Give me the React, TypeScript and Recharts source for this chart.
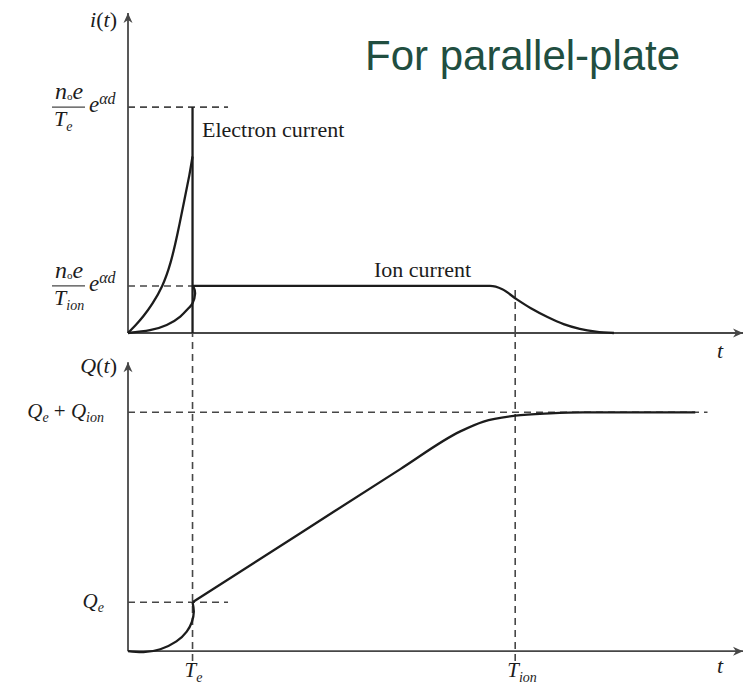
import { LineChart, Line, XAxis, YAxis, ReferenceLine } from 'recharts'

const SERIF = "'Liberation Serif', 'Times New Roman', serif"
const SANS = "'Liberation Sans', Arial, sans-serif"
const INK = '#1c1c1c'
const AXIS = '#474747'
const DASH = '7 5'

// shared time axis (t in units of Te)
const TE = 1
const TION = 6
const T_MAX = 9.53
const T_SHORT_GUIDE = 1.55
const T_LONG_GUIDE = 8.98

// current panel, i(t) in units of the ion current level
const I_ION = 1
const I_PEAK = 4.8
const I_MAX = 6.8
const I_TION_GUIDE = 1.02

// charge panel, Q(t) in units of Qe
const Q_E = 1
const Q_TOTAL = 4.88
const Q_MIN = -0.2
const Q_MAX = 6.5
const Q_ARROW = 5.9

// electron current: steep rise up to Te, then drop back to zero
const electronRiseT = [0, 0.12, 0.24, 0.38, 0.53, 0.66, 0.77, 0.87, 0.95, 1.0]
const electronRiseI = [0, 0.17, 0.36, 0.63, 1.0, 1.5, 2.13, 2.8, 3.35, 3.75]
const electronDropT = [1.0, 1.0]
const electronDropI = [4.8, 0]

// ion current: small rise before Te, plateau, tail after Tion
const ionRiseT = [0, 0.34, 0.6, 0.81, 0.94, 1.0, 1.04, 1.01]
const ionRiseI = [0, 0.06, 0.17, 0.35, 0.53, 0.63, 0.84, 1.0]
const ionPlateauT = [1.0, 5.61, 5.8, 6.02, 6.25, 6.5, 6.75, 7.0, 7.25, 7.53]
const ionPlateauI = [1, 1, 0.93, 0.72, 0.52, 0.34, 0.19, 0.09, 0.03, 0]

// collected charge
const chargeElectronT = [0, 0.24, 0.5, 0.75, 0.91, 0.99, 1.02, 1.0]
const chargeElectronQ = [0, -0.02, 0.04, 0.2, 0.4, 0.6, 0.81, 1.0]
const chargeIonT = [1.0, 2.67, 4.22, 5.15, 5.51, 6.0, 6.54, 7.05, 8.79]
const chargeIonQ = [1.0, 2.41, 3.72, 4.49, 4.69, 4.81, 4.86, 4.88, 4.88]

const pts = (ts: number[], vs: number[]) => ts.map((t, i) => ({ t, v: vs[i] }))

const ArrowAxis = (props: any) => {
  const { x1, y1, x2, y2, vertical, name, nameDx, nameDy } = props
  const head = vertical
    ? `M${x2},${y2} L${x2 - 4.5},${y2 + 10} L${x2},${y2 + 7} L${x2 + 4.5},${y2 + 10} Z`
    : `M${x2},${y2} L${x2 - 10},${y2 - 4.5} L${x2 - 7},${y2} L${x2 - 10},${y2 + 4.5} Z`
  return (
    <g>
      <line x1={x1} y1={y1} x2={x2} y2={y2} stroke={AXIS} strokeWidth={1.8} />
      <path d={head} fill={AXIS} />
      <text
        x={x2 + nameDx}
        y={y2 + nameDy}
        textAnchor={vertical ? 'end' : 'start'}
        fontFamily={SERIF}
        fontSize={22}
        fill={INK}
      >
        {name}
      </text>
    </g>
  )
}

const it = (s: string) => <tspan fontStyle="italic">{s}</tspan>

const CurrentTick = ({ x, y, payload }: any) => {
  const sub = payload.value === I_PEAK ? 'e' : 'ion'
  return (
    <g fill={INK} fontFamily={SERIF} fontStyle="italic">
      <text x={x - 73} y={y - 8} fontSize={24}>
        n<tspan fontSize={11} fontStyle="normal" dy={1}>o</tspan>
        <tspan dy={-1}>e</tspan>
      </text>
      <line x1={x - 76} x2={x - 43} y1={y} y2={y} stroke={AXIS} strokeWidth={1.3} />
      <text x={x - 74} y={y + 19} fontSize={22}>
        T<tspan fontSize={14} dy={5}>{sub}</tspan>
      </text>
      <text x={x - 39} y={y + 5} fontSize={23}>
        e<tspan fontSize={16} dy={-8}>αd</tspan>
      </text>
    </g>
  )
}

const ChargeTick = ({ x, y, payload }: any) => {
  const total = payload.value === Q_TOTAL
  return (
    <text x={x - 24} y={y + 6} textAnchor="end" fontFamily={SERIF} fontStyle="italic" fontSize={21} fill={INK}>
      Q<tspan fontSize={14} dy={4}>e</tspan>
      {total && (
        <>
          <tspan dy={-4} fontStyle="normal">{'\u00a0+\u00a0'}</tspan>
          <tspan>Q</tspan>
          <tspan fontSize={14} dy={4}>ion</tspan>
        </>
      )}
    </text>
  )
}

const TimeTick = ({ x, y, payload }: any) => {
  const sub = payload.value === TE ? 'e' : 'ion'
  return (
    <text x={x - 8} y={y + 16} fontFamily={SERIF} fontStyle="italic" fontSize={21} fill={INK}>
      T<tspan fontSize={14} dy={5}>{sub}</tspan>
    </text>
  )
}

const curve = { dataKey: 'v', dot: false, stroke: INK, strokeWidth: 2.3, isAnimationActive: false }
const guide = { stroke: AXIS, strokeWidth: 1.6, strokeDasharray: DASH, ifOverflow: 'visible' as const }

export default function App() {
  return (
    <div style={{ position: 'absolute', left: 0, top: 0, width: 749, height: 688, background: '#fff' }}>
      {/* i(t) panel */}
      <div style={{ position: 'absolute', left: 0, top: 0 }}>
        <LineChart width={749} height={372} margin={{ top: 13, right: 6, bottom: 39, left: 0 }}>
          <XAxis type="number" dataKey="t" domain={[0, T_MAX]} hide />
          <YAxis
            type="number"
            domain={[0, I_MAX]}
            ticks={[I_ION, I_PEAK]}
            interval={0}
            width={128}
            axisLine={false}
            tickLine={false}
            tickSize={0}
            tickMargin={0}
            tick={(p: any) => <CurrentTick {...p} />}
          />
          <ReferenceLine segment={[{ x: 0, y: I_PEAK }, { x: T_SHORT_GUIDE, y: I_PEAK }]} {...guide} />
          <ReferenceLine segment={[{ x: 0, y: I_ION }, { x: TE, y: I_ION }]} {...guide} />
          <ReferenceLine segment={[{ x: TION, y: 0 }, { x: TION, y: I_TION_GUIDE }]} {...guide} />
          <ReferenceLine
            segment={[{ x: 0, y: 0 }, { x: 0, y: I_MAX }]}
            ifOverflow="visible"
            shape={(p: any) => (
              <ArrowAxis {...p} vertical name={<>{it('i')}({it('t')})</>} nameDx={-11} nameDy={14} />
            )}
          />
          <ReferenceLine
            segment={[{ x: 0, y: 0 }, { x: T_MAX, y: 0 }]}
            ifOverflow="visible"
            shape={(p: any) => <ArrowAxis {...p} name={it('t')} nameDx={-26} nameDy={25} />}
          />
          <Line data={pts(electronRiseT, electronRiseI)} type="natural" {...curve} />
          <Line data={pts(electronDropT, electronDropI)} type="linear" {...curve} />
          <Line data={pts(ionRiseT, ionRiseI)} type="natural" {...curve} />
          <Line data={pts(ionPlateauT, ionPlateauI)} type="monotoneX" {...curve} />
        </LineChart>
      </div>

      {/* Q(t) panel */}
      <div style={{ position: 'absolute', left: 0, top: 333 }}>
        <LineChart width={749} height={355} margin={{ top: 0, right: 6, bottom: 0, left: 0 }}>
          <XAxis
            type="number"
            dataKey="t"
            domain={[0, T_MAX]}
            ticks={[TE, TION]}
            interval={0}
            height={27}
            axisLine={false}
            tickLine={false}
            tickSize={0}
            tickMargin={0}
            tick={(p: any) => <TimeTick {...p} />}
          />
          <YAxis
            type="number"
            domain={[Q_MIN, Q_MAX]}
            ticks={[Q_E, Q_TOTAL]}
            interval={0}
            width={128}
            axisLine={false}
            tickLine={false}
            tickSize={0}
            tickMargin={0}
            tick={(p: any) => <ChargeTick {...p} />}
          />
          <ReferenceLine segment={[{ x: 0, y: Q_E }, { x: T_SHORT_GUIDE, y: Q_E }]} {...guide} />
          <ReferenceLine segment={[{ x: 0, y: Q_TOTAL }, { x: T_LONG_GUIDE, y: Q_TOTAL }]} {...guide} />
          <ReferenceLine segment={[{ x: TE, y: Q_MIN }, { x: TE, y: Q_MAX }]} {...guide} />
          <ReferenceLine segment={[{ x: TION, y: Q_MIN }, { x: TION, y: Q_MAX }]} {...guide} />
          <ReferenceLine
            segment={[{ x: 0, y: 0 }, { x: 0, y: Q_ARROW }]}
            ifOverflow="visible"
            shape={(p: any) => (
              <ArrowAxis {...p} vertical name={<>{it('Q')}({it('t')})</>} nameDx={-11} nameDy={11} />
            )}
          />
          <ReferenceLine
            segment={[{ x: 0, y: 0 }, { x: T_MAX, y: 0 }]}
            ifOverflow="visible"
            shape={(p: any) => <ArrowAxis {...p} name={it('t')} nameDx={-26} nameDy={22} />}
          />
          <Line data={pts(chargeElectronT, chargeElectronQ)} type="natural" {...curve} />
          <Line data={pts(chargeIonT, chargeIonQ)} type="monotoneX" {...curve} />
        </LineChart>
      </div>

      {/* annotations */}
      <svg width={749} height={688} style={{ position: 'absolute', left: 0, top: 0, pointerEvents: 'none' }}>
        <text x={365} y={70} fontFamily={SANS} fontSize={42} fill="#214e40">
          For parallel-plate
        </text>
        <text x={202} y={137} fontFamily={SERIF} fontSize={22} fill={INK}>
          Electron current
        </text>
        <text x={374} y={277} fontFamily={SERIF} fontSize={22} fill={INK}>
          Ion current
        </text>
      </svg>
    </div>
  )
}
